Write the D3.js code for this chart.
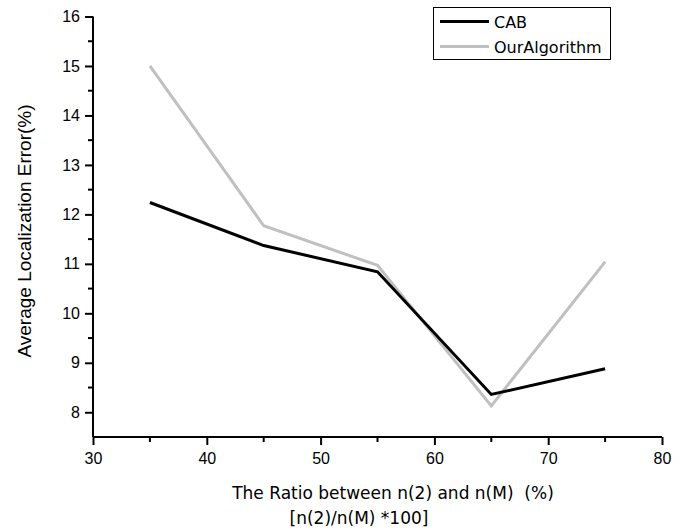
<!DOCTYPE html>
<html><head><meta charset="utf-8">
<script src="https://cdn.jsdelivr.net/npm/d3@7"></script>
<style>body{margin:0;background:#fff}</style>
</head><body>
<script>
const xValues = [35, 45, 55, 65, 75];
const cabValues = [12.24, 11.37, 10.84, 8.36, 8.88];
const ourValues = [15.0, 11.77, 10.97, 8.13, 11.04];
const seriesNames = ["CAB", "OurAlgorithm"];
const xTicks = [30, 40, 50, 60, 70, 80];
const yTicks = [8, 9, 10, 11, 12, 13, 14, 15, 16];

const W = 684, H = 530;
const svg = d3.select("body").append("svg").attr("width", W).attr("height", H);
const x = d3.scaleLinear().domain([30, 80]).range([93, 662]);
const y = d3.scaleLinear().domain([7.5, 16]).range([437, 16.5]);

const tickFont = "Liberation Sans, Arial, sans-serif";
const titleFont = "DejaVu Sans, Verdana, sans-serif";

// minor ticks
const xMinor = d3.range(35, 80, 10);
const yMinor = d3.range(8.5, 16, 1);
const gx = svg.append("g").attr("transform", "translate(0,437)");
gx.selectAll("line.minor").data(xMinor).join("line")
  .attr("x1", d => x(d)).attr("x2", d => x(d)).attr("y1", 0).attr("y2", 5)
  .attr("stroke", "#000").attr("stroke-width", 2);
const xAxis = d3.axisBottom(x).tickValues(xTicks).tickSize(8).tickSizeOuter(0).tickPadding(8);
gx.call(xAxis);
gx.select(".domain").attr("stroke-width", 2).attr("d", `M${x(30)},0H${x(80)}`);
gx.selectAll(".tick line").attr("stroke-width", 2);
gx.selectAll(".tick text").attr("font-family", tickFont).attr("font-size", 16).attr("fill", "#000");

const gy = svg.append("g").attr("transform", "translate(93,0)");
gy.selectAll("line.minor").data(yMinor).join("line")
  .attr("x1", 0).attr("x2", -5).attr("y1", d => y(d)).attr("y2", d => y(d))
  .attr("stroke", "#000").attr("stroke-width", 2);
const yAxis = d3.axisLeft(y).tickValues(yTicks).tickSize(8).tickSizeOuter(0).tickPadding(5);
gy.call(yAxis);
gy.select(".domain").attr("stroke-width", 2).attr("d", `M0,${y(7.5)}V${y(16)}`);
gy.selectAll(".tick line").attr("stroke-width", 2);
gy.selectAll(".tick text").attr("font-family", tickFont).attr("font-size", 16).attr("fill", "#000");

// lines
const line = d3.line().x((d, i) => x(xValues[i])).y(d => y(d));
svg.append("path").datum(ourValues).attr("d", line).attr("fill", "none")
  .attr("stroke", "#c0c0c0").attr("stroke-width", 3).attr("stroke-linejoin", "miter");
svg.append("path").datum(cabValues).attr("d", line).attr("fill", "none")
  .attr("stroke", "#000").attr("stroke-width", 3).attr("stroke-linejoin", "miter");

// axis titles
svg.append("text").attr("x", 393).attr("y", 499).attr("text-anchor", "middle")
  .attr("font-family", titleFont).attr("font-size", 17).attr("fill", "#000")
  .style("white-space", "pre").text("The Ratio between n(2) and n(M)  (%)");
svg.append("text").attr("x", 359).attr("y", 524).attr("text-anchor", "middle")
  .attr("font-family", titleFont).attr("font-size", 17).attr("fill", "#000")
  .text("[n(2)/n(M) *100]");
svg.append("text").attr("transform", "translate(31,231) rotate(-90)").attr("text-anchor", "middle")
  .attr("font-family", tickFont).attr("font-size", 19).attr("fill", "#000")
  .text("Average Localization Error(%)");

// legend
const lg = svg.append("g");
lg.append("rect").attr("x", 433.5).attr("y", 7.5).attr("width", 177).attr("height", 52)
  .attr("fill", "#fff").attr("stroke", "#000").attr("stroke-width", 1);
const colors = ["#000", "#c0c0c0"];
seriesNames.forEach((n, i) => {
  const yy = 21.5 + i * 25;
  lg.append("line").attr("x1", 440).attr("x2", 489).attr("y1", yy).attr("y2", yy)
    .attr("stroke", colors[i]).attr("stroke-width", 3);
  lg.append("text").attr("x", 494).attr("y", yy + 6).attr("font-family", titleFont)
    .attr("font-size", 16).attr("fill", "#000").text(n);
});
</script>
</body></html>
